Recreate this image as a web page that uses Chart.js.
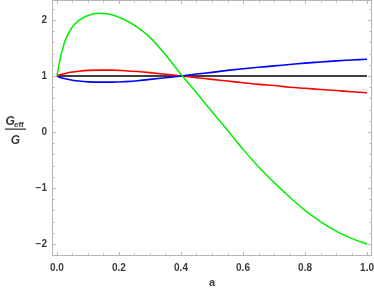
<!DOCTYPE html>
<html>
<head>
<meta charset="utf-8">
<script src="https://cdn.jsdelivr.net/npm/chart.js@4/dist/chart.umd.min.js"></script>
<style>
html,body{margin:0;padding:0;background:#fff;}
canvas{display:block;}
</style>
</head>
<body>
<canvas id="c" width="374" height="289"></canvas>
<script>
// ---- data ----
const aValues   = [0, 0.01, 0.02, 0.03, 0.05, 0.07, 0.1, 0.14, 0.18, 0.22, 0.26, 0.3, 0.35, 0.4, 0.45, 0.5, 0.55, 0.6, 0.65, 0.7, 0.75, 0.8, 0.85, 0.9, 0.95, 1.0];
const greenVals = [1.0, 1.3, 1.52, 1.68, 1.88, 1.99, 2.08, 2.12, 2.09, 2.0, 1.87, 1.69, 1.38, 1.03, 0.70, 0.36, 0.03, -0.31, -0.62, -0.90, -1.16, -1.40, -1.60, -1.77, -1.90, -2.0];
const redVals   = [1.0, 1.02, 1.035, 1.05, 1.07, 1.085, 1.1, 1.105, 1.105, 1.095, 1.08, 1.06, 1.03, 1.0, 0.97, 0.94, 0.91, 0.88, 0.85, 0.83, 0.80, 0.78, 0.76, 0.74, 0.72, 0.70];
const blueVals  = [1.0, 0.975, 0.96, 0.945, 0.925, 0.91, 0.895, 0.89, 0.89, 0.9, 0.915, 0.94, 0.97, 1.0, 1.035, 1.065, 1.10, 1.13, 1.155, 1.18, 1.205, 1.23, 1.25, 1.27, 1.285, 1.30];
const blackVals = aValues.map(() => 1.0);

const xTicks = [0, 0.2, 0.4, 0.6, 0.8, 1.0];
const xTickLabels = ['0.0', '0.2', '0.4', '0.6', '0.8', '1.0'];
const yTicks = [-2, -1, 0, 1, 2];
const yTickLabels = ['\u22122', '\u22121', '0', '1', '2'];
const xTitle = 'a';

function pts(ys){ return aValues.map((a,i)=>({x:a, y:ys[i]})); }

const FRAME = '#b4b4b4';
const TXT = '#3c3c3c';
const FONT = 'Liberation Sans, Arial, sans-serif';

const framePlugin = {
  id: 'frame',
  afterDatasetsDraw(chart){
    const ctx = chart.ctx, ca = chart.chartArea;
    const xs = chart.scales.x, ys = chart.scales.y;
    ctx.save();
    ctx.strokeStyle = FRAME;
    ctx.lineWidth = 1;
    ctx.strokeRect(Math.round(ca.left)+0.5, Math.round(ca.top)+0.5, Math.round(ca.right-ca.left)-1, Math.round(ca.bottom-ca.top)-1);
    for (let k=0;k<=20;k++){
      const v = k*0.05;
      const major = (k%4===0);
      const len = major ? 4 : 2.5;
      const px = Math.round(xs.getPixelForValue(v))+0.5;
      ctx.beginPath();
      ctx.moveTo(px, ca.bottom); ctx.lineTo(px, ca.bottom-len);
      ctx.moveTo(px, ca.top); ctx.lineTo(px, ca.top+len);
      ctx.stroke();
    }
    for (let k=-11;k<=11;k++){
      const v = k*0.2;
      if (v < ys.min || v > ys.max) continue;
      const major = (k%5===0);
      const len = major ? 4 : 2.5;
      const py = Math.round(ys.getPixelForValue(v))+0.5;
      ctx.beginPath();
      ctx.moveTo(ca.left, py); ctx.lineTo(ca.left+len, py);
      ctx.moveTo(ca.right, py); ctx.lineTo(ca.right-len, py);
      ctx.stroke();
    }
    ctx.fillStyle = TXT;
    ctx.font = 'bold 11px ' + FONT;
    ctx.textAlign = 'center';
    ctx.textBaseline = 'alphabetic';
    ctx.fillText(xTitle, (ca.left+ca.right)/2, 286);
    ctx.font = 'italic bold 12px ' + FONT;
    ctx.textAlign = 'left';
    ctx.fillText('G', 5.5, 125);
    ctx.font = 'bold 8px ' + FONT;
    ctx.fillText('eff', 14, 127);
    ctx.fillRect(5, 128.5, 21, 1.3);
    ctx.font = 'italic bold 12px ' + FONT;
    ctx.textAlign = 'center';
    ctx.fillText('G', 15.5, 143.5);
    ctx.restore();
  }
};

new Chart(document.getElementById('c'), {
  type: 'line',
  data: {
    datasets: [
      {label:'green', data: pts(greenVals), borderColor:'#00f000', borderWidth:1.5, order:0},
      {label:'blue',  data: pts(blueVals),  borderColor:'#0000ff', borderWidth:1.6, order:1},
      {label:'red',   data: pts(redVals),   borderColor:'#ff0000', borderWidth:1.6, order:2},
      {label:'black', data: pts(blackVals), borderColor:'#000000', borderWidth:1.6, order:3}
    ]
  },
  plugins: [framePlugin],
  options: {
    responsive: false,
    animation: false,
    devicePixelRatio: 1,
    layout: {padding: {top: 0, right: 2, left: 0, bottom: 0}},
    elements: {
      point: {radius: 0},
      line: {tension: 0, cubicInterpolationMode: 'monotone', fill: false}
    },
    plugins: {legend: {display: false}, tooltip: {enabled: false}},
    scales: {
      x: {
        type: 'linear',
        min: -0.016, max: 1.016,
        grid: {display: false, drawTicks: false},
        border: {display: false},
        afterBuildTicks: s => { s.ticks = xTicks.map(v => ({value: v})); },
        afterFit: s => { s.height = 33; s.paddingLeft = 0; s.paddingRight = 0; },
        ticks: {
          padding: 6,
          color: TXT,
          font: {family: FONT, size: 10, weight: 'bold'},
          maxRotation: 0,
          callback: (v, i) => xTickLabels[i]
        }
      },
      y: {
        type: 'linear',
        min: -2.214, max: 2.357,
        grid: {display: false, drawTicks: false},
        border: {display: false},
        afterBuildTicks: s => { s.ticks = yTicks.map(v => ({value: v})); },
        afterFit: s => { s.width = 52; s.paddingTop = 0; s.paddingBottom = 0; },
        ticks: {
          padding: 5,
          color: TXT,
          font: {family: FONT, size: 10, weight: 'bold'},
          callback: (v, i) => yTickLabels[i]
        }
      }
    }
  }
});
</script>
</body>
</html>
